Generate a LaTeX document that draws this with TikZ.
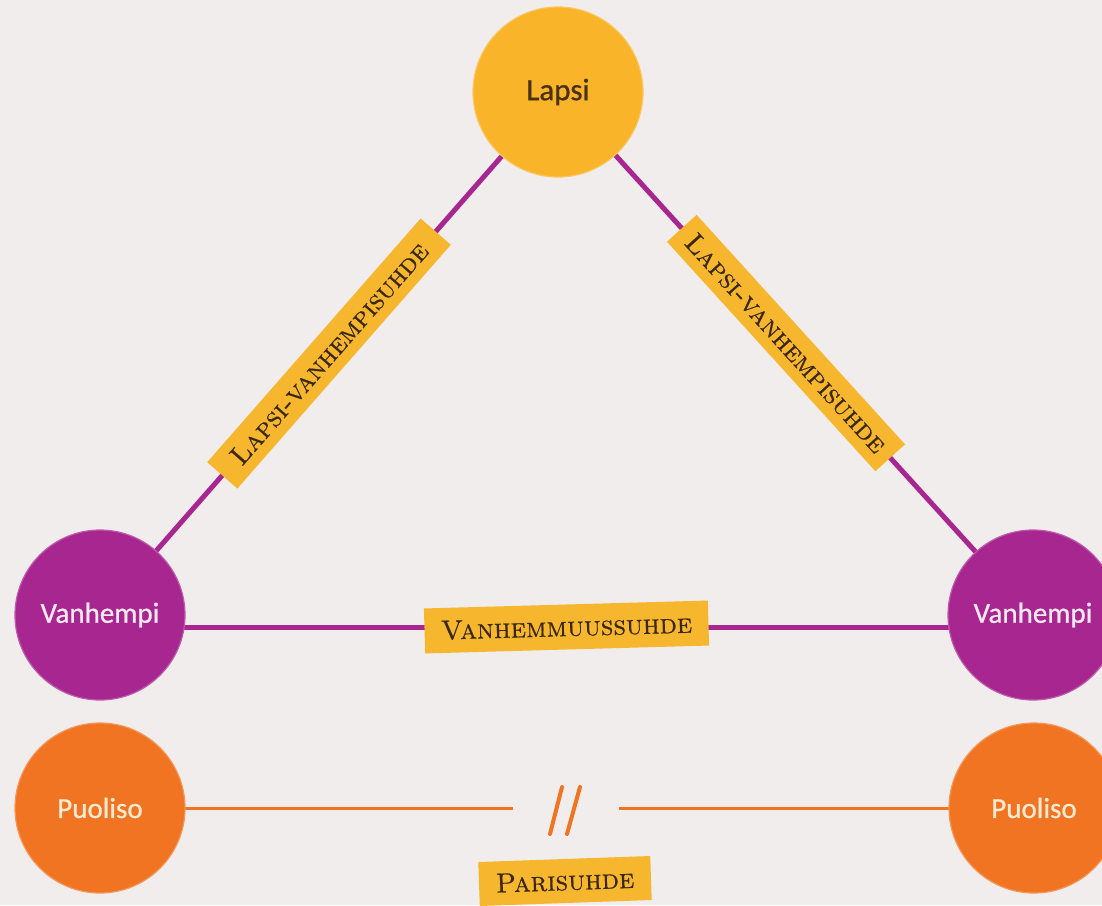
\documentclass[tikz,border=0pt]{standalone}
\usepackage{fontspec}
\newfontfamily\circfont[FakeBold=0.8]{Carlito}
\newfontfamily\labfont[FakeBold=0.6]{lmromancaps10-regular.otf}
\usetikzlibrary{calc}
\definecolor{bgc}{HTML}{F0EDEC}
\definecolor{lapY}{HTML}{F9B42A}
\definecolor{lapT}{HTML}{4A3210}
\definecolor{purp}{HTML}{A8268F}
\definecolor{vanT}{HTML}{F8E8F2}
\definecolor{orng}{HTML}{F07422}
\definecolor{puoT}{HTML}{FCEBD0}
\definecolor{labY}{HTML}{F6B62E}
\definecolor{labT}{HTML}{3A2812}
\pgfdeclarelayer{bglayer}
\pgfdeclarelayer{linelayer}
\pgfsetlayers{bglayer,linelayer,main}
\begin{document}
\begin{tikzpicture}[x=1pt,y=-1pt,
  circ/.style={circle, minimum size=170pt, inner sep=0pt, line width=1.2pt,
    font=\circfont\fontsize{29}{30}\selectfont},
  lapcirc/.style={circ, fill=lapY, draw=lapY!75!white, text=lapT,
    font=\circfont\fontsize{31}{32}\selectfont},
  vancirc/.style={circ, fill=purp, draw=purp!75!white, text=vanT},
  puocirc/.style={circ, fill=orng, draw=orng!75!white, text=puoT},
  lab/.style={fill=labY, text=labT, inner sep=0pt, minimum height=40pt,
    font=\labfont\fontsize{27.5}{29}\selectfont},
  purline/.style={draw=purp, line width=5pt},
  orline/.style={draw=orng, line width=3pt},
  slash/.style={draw=orng, line width=4pt, line cap=round}]
\useasboundingbox (0,0) rectangle (1102,905);
\begin{pgfonlayer}{bglayer}
  \fill[bgc] (0,0) rectangle (1102,905);
\end{pgfonlayer}
\clip (0,0) rectangle (1102,905);

\node[lapcirc] (L) at (558,92) {Lapsi};
\node[vancirc] (VL) at (100,615) {Vanhempi};
\node[vancirc] (VR) at (1033,615) {Vanhempi};
\node[puocirc] (PL) at (100,808) {Puoliso};
\node[puocirc] (PR) at (1034,808) {Puoliso};

\coordinate (brkL) at (513,808);
\coordinate (brkR) at (619,808);
\coordinate (s1a) at (562,787);
\coordinate (s1b) at (550,834);
\coordinate (s2a) at (580,787);
\coordinate (s2b) at (567,834);

\begin{pgfonlayer}{linelayer}
  \draw[purline] (VL.center) -- (L.center)
    node[lab, sloped, pos=0.5, minimum width=324pt] (lv1) {Lapsi-vanhempisuhde};
  \draw[purline] (L.center) -- (VR.center)
    node[lab, sloped, pos=0.48, minimum width=310pt] (lv2) {Lapsi-vanhempisuhde};
  \draw[purline] ([yshift=-12pt]VL.center) -- ([yshift=-12pt]VR.center)
    node[lab, pos=0.5, rotate=1.6, minimum width=284pt, minimum height=45pt] (vs) {Vanhemmuussuhde};
  \draw[orline] (PL.center) -- (brkL);
  \draw[orline] (brkR) -- (PR.center);
  \draw[slash] (s1a) -- (s1b);
  \draw[slash] (s2a) -- (s2b);
\end{pgfonlayer}

\node[lab, rotate=2, minimum width=172pt, minimum height=44pt] (ps) at (565,881) {Parisuhde};
\end{tikzpicture}
\end{document}
